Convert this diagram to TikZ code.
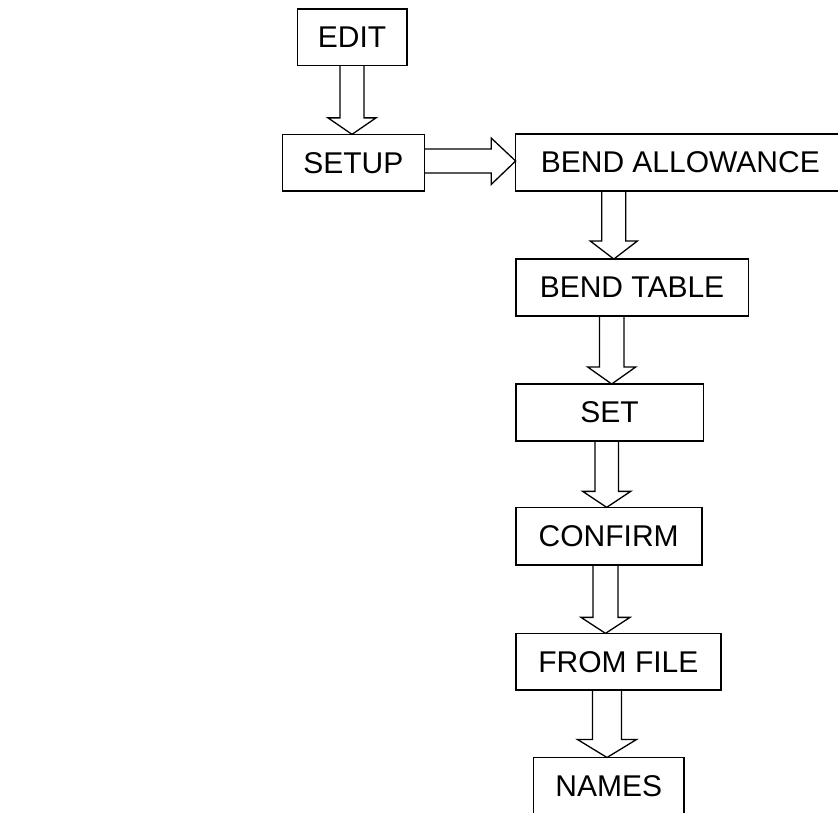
\documentclass[tikz,border=0pt]{standalone}
\usepackage{fontspec}
\setmainfont{Liberation Sans}
\usetikzlibrary{calc}
\tikzset{
  box/.style={draw=black, line width=1.6pt, inner sep=0pt, outer sep=0pt,
    font=\fontsize{30}{36}\selectfont, anchor=center},
  blockarrow/.style={draw=black, line width=1.3pt, line join=miter}
}
% #1 source, #2 target, #3 x centre (pt), #4 shaft half width, #5 head half width, #6 head length
\newcommand\vblockarrow[6]{%
  \draw[blockarrow] let \p1=(#1.south), \p2=(#2.north) in
    (#3pt-#4pt,\y1) -- (#3pt-#4pt,\y2+#6pt) -- (#3pt-#5pt,\y2+#6pt) -- (#3pt,\y2)
    -- (#3pt+#5pt,\y2+#6pt) -- (#3pt+#4pt,\y2+#6pt) -- (#3pt+#4pt,\y1);}
\begin{document}
\begin{tikzpicture}[x=1pt,y=-1pt]
\useasboundingbox (0,0) rectangle (838,812);
\clip (0,0) rectangle (838,812);
\fill[white] (0,0) rectangle (838,812);

\node[box, minimum width=109.4pt, minimum height=56.7pt] (edit) at (352,37.3) {EDIT};
\node[box, minimum width=142pt, minimum height=56.7pt] (setup) at (353.3,162.7) {SETUP};
\node[box, minimum width=329.3pt, minimum height=56.7pt] (ba) at (680.3,162.4) {BEND ALLOWANCE};
\node[box, minimum width=232.6pt, minimum height=56.7pt] (bt) at (632,287.4) {BEND TABLE};
\node[box, minimum width=187.6pt, minimum height=57pt] (set) at (609.5,412.5) {SET};
\node[box, minimum width=186pt, minimum height=57.7pt] (confirm) at (608.7,536.2) {CONFIRM};
\node[box, minimum width=205.3pt, minimum height=56.7pt] (fromfile) at (618.4,661.7) {FROM FILE};
\node[box, minimum width=150.7pt, minimum height=57pt] (names) at (608.7,786) {NAMES};

\vblockarrow{edit}{setup}{352}{12}{24}{16.5}
\vblockarrow{ba}{bt}{613.8}{12}{23.5}{18}
\vblockarrow{bt}{set}{611.7}{12.3}{24}{17}
\vblockarrow{set}{confirm}{606.7}{11.7}{24}{16}
\vblockarrow{confirm}{fromfile}{605.5}{12.5}{24.5}{16}
\vblockarrow{fromfile}{names}{607}{14.5}{29.5}{18}

\draw[blockarrow] let \p1=(setup.east), \p2=(ba.west) in
  (\x1,-149pt) -- (\x2-24.5pt,-149pt) -- (\x2-24.5pt,-138pt) -- (\x2,-161pt)
  -- (\x2-24.5pt,-184.5pt) -- (\x2-24.5pt,-173pt) -- (\x1,-173pt);
\end{tikzpicture}
\end{document}
